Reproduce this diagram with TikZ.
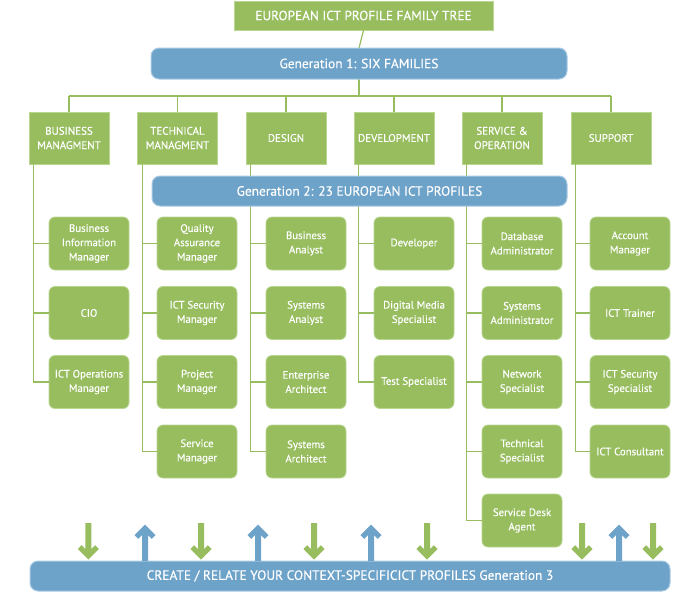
\documentclass[tikz,border=0pt]{standalone}
\usepackage{fontspec}
\setmainfont{PT Sans}[FakeBold=0.35]
\definecolor{gfill}{HTML}{97BD5F}
\definecolor{gline}{HTML}{B9D690}
\definecolor{bfill}{HTML}{6DA2C9}
\definecolor{bline}{HTML}{A9CBE3}
\newcommand\myDown[1]{\fill[gfill] (#1-3,523) -- (#1+3,523) -- (#1+3,549) -- (#1+6.8,545.2) -- (#1+10.5,549) -- (#1,559.5) -- (#1-10.5,549) -- (#1-6.8,545.2) -- (#1-3,549) -- cycle;}
\newcommand\myUp[1]{\fill[bfill] (#1-3,561) -- (#1+3,561) -- (#1+3,535) -- (#1+6.8,538.8) -- (#1+10.5,535) -- (#1,524.5) -- (#1-10.5,535) -- (#1-6.8,538.8) -- (#1-3,535) -- cycle;}
\begin{document}
\begin{tikzpicture}[x=1pt,y=-1pt,
  fam/.style={draw=gline,line width=0.8pt,fill=gfill,text=white,minimum width=80pt,minimum height=52pt,inner sep=1pt,align=center,font=\fontsize{11}{14.3}\selectfont},
  prof/.style={draw=gline,line width=0.8pt,fill=gfill,text=white,rounded corners=6pt,minimum width=80pt,minimum height=53pt,inner sep=1pt,align=center,font=\fontsize{10.8}{14.3}\selectfont},
  bar/.style={draw=bline,line width=1pt,fill=bfill,text=white,rounded corners=8pt,inner sep=0pt,font=\fontsize{13.4}{15}\selectfont},
  conn/.style={draw=gfill,line width=1.2pt}]
\useasboundingbox (0,0) rectangle (697,592);
% title and generation 1
\node[fam,minimum width=259pt,minimum height=29pt,font=\fontsize{13.3}{15}\selectfont] (title) at (363.5,15.5) {EUROPEAN ICT PROFILE FAMILY TREE};
\coordinate (hl) at (69,96);
\coordinate (hr) at (611,96);
\draw[conn] (title.south) -- (359,48);
\draw[conn] (359,79) -- (359,96);
\draw[conn] (hl) -- (hr);
\node[bar,minimum width=416pt,minimum height=31pt] (gen1) at (359,63.5) {Generation 1: SIX FAMILIES};
% families
\node[fam] (f1) at (69,138) {BUSINESS\\MANAGMENT};
\node[fam] (f2) at (177.5,138) {TECHNICAL\\MANAGMENT};
\node[fam] (f3) at (286,138) {DESIGN};
\node[fam] (f4) at (394,138) {DEVELOPMENT};
\node[fam] (f5) at (502,138) {SERVICE \&\\OPERATION};
\node[fam] (f6) at (611,138) {SUPPORT};
\foreach \f in {f1,f2,f3,f4,f5,f6}{\draw[conn] (\f.north) -- (\f.north |- hl);}
% profiles
\foreach \n/\x/\y/\t in {
  p11/89/243.5/{Business\\Information\\Manager}, p12/89/313/CIO, p13/89/382/{ICT Operations\\Manager},
  p21/197/243.5/{Quality\\Assurance\\Manager}, p22/197/313/{ICT Security\\Manager}, p23/197/382/{Project\\Manager}, p24/197/451.5/{Service\\Manager},
  p31/306/243.5/{Business\\Analyst}, p32/306/313/{Systems\\Analyst}, p33/306/382/{Enterprise\\Architect}, p34/306/451.5/{Systems\\Architect},
  p41/414/243.5/Developer, p42/414/313/{Digital Media\\Specialist}, p43/414/382/{Test Specialist},
  p51/522/243.5/{Database\\Administrator}, p52/522/313/{Systems\\Administrator}, p53/522/382/{Network\\Specialist}, p54/522/451.5/{Technical\\Specialist}, p55/522/520.5/{Service Desk\\Agent},
  p61/630/243.5/{Account\\Manager}, p62/630/313/{ICT Trainer}, p63/630/382/{ICT Security\\Specialist}, p64/630/451.5/{ICT Consultant}}
  {\node[prof] (\n) at (\x,\y) {\t};}
% column connectors
\foreach \f/\last/\list in {f1/p13/{p11,p12}, f2/p24/{p21,p22,p23}, f3/p34/{p31,p32,p33}, f4/p43/{p41,p42}, f5/p55/{p51,p52,p53,p54}, f6/p64/{p61,p62,p63}}{
  \coordinate (top) at ([xshift=5pt]\f.south west);
  \draw[conn] (top) |- (\last.west);
  \foreach \p in \list {\draw[conn] (\p.west) -- (\p.west -| top);}
}
\node[bar,minimum width=415pt,minimum height=30pt] (gen2) at (359.5,191) {Generation 2: 23 EUROPEAN ICT PROFILES};
% generation 3
\node[bar,minimum width=640pt,minimum height=30pt] (gen3) at (350,576) {CREATE / RELATE YOUR CONTEXT-SPECIFICICT PROFILES Generation 3};
\myDown{88.3}\myDown{201}\myDown{314}\myDown{427}\myDown{582}\myDown{653}
\myUp{145}\myUp{258}\myUp{371}\myUp{619}
\end{tikzpicture}
\end{document}
